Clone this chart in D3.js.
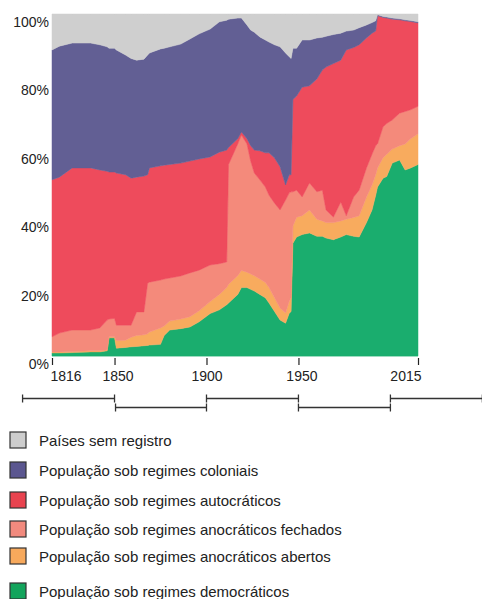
<!DOCTYPE html>
<html>
<head>
<meta charset="utf-8">
<script src="https://cdn.jsdelivr.net/npm/d3@7"></script>
<style>
  html, body { margin: 0; padding: 0; background: #fff; }
  svg { display: block; font-family: "Liberation Sans", Arial, Helvetica, sans-serif; }
</style>
</head>
<body>
<svg id="chart" width="482" height="599"></svg>
<script>
// ---- data (percent of world population) ----
const years = [1816,1820,1827,1837,1842,1846,1847,1850,1851,1856,1859,1862,1866,1868,1869,1875,1877,1880,1886,1891,1896,1902,1907,1911,1912,1917,1919,1922,1924,1926,1929,1932,1934,1937,1940,1943,1945,1946,1947,1949,1952,1956,1960,1963,1965,1969,1973,1976,1980,1983,1987,1990,1992,1993,1996,1998,2001,2005,2008,2011,2015];

const democratic   = [0.9,0.9,1.0,1.2,1.2,1.5,5.3,5.3,2.3,2.5,2.7,2.8,3.0,3.1,3.2,3.4,6.0,7.6,8.0,8.5,10.0,12.4,13.5,15,15.5,18,20,20,19.5,19,18,17,15.5,13,10.5,9.6,12.5,13,33,34.8,35.5,36,35,35,34.5,34,34.8,35.5,35,34.8,39,42.7,47,49.4,52,52.5,56.4,57.3,54.4,55,56];
const openAnocracy = [0.3,0.3,0.3,0.3,0.3,0.3,0.3,0.3,2.2,2.1,2.8,3.2,3.2,3.4,3.8,4.8,2.8,2.6,2.8,3.0,3.2,3.5,4.5,5,5.5,5.5,5,4.5,4.5,4.5,4.5,4.5,4.5,4,3.5,3,3.5,4,5,5.8,5.5,6.7,5,4.5,4.5,5,4.7,4.5,5.5,6.2,7.5,7.3,6,5.6,6,6.5,4.1,4.2,7.6,8.5,9];
const closedAnocracy = [4.4,5.5,6.3,6.1,6.7,8.7,5.2,5.4,4.5,4.4,3.5,6.9,6.7,14.8,14.6,14.0,13.7,12.6,12.6,12.8,11.9,10.7,9.0,7.5,35,38.5,39.6,37.5,33,30,29,27.9,27,27.7,28.7,33,31.7,31,10,7.9,5.5,7.9,8,9,3.7,1.6,5.5,1,6,7.5,8.5,9,8.5,7,9,9,8.5,9.5,9.5,8.5,8];
const autocratic   = [45.9,45.6,47.4,47.4,46.2,43.5,43.0,42.8,44.5,44.0,43.0,39.4,39.7,31.7,33.4,33.4,33.3,33.2,33.0,32.7,32.5,31.6,32.6,32.7,5,1.5,0.9,1.5,4.5,6.7,8.5,10,12.4,13.2,12.6,4.4,5.3,5,27,27.5,32.1,28.4,33,35.1,41.8,44.9,41.5,48.5,43.7,42.5,38,35.4,33.5,37.5,32,30.8,29.5,27.3,26.5,25.8,24.4];
const colonial     = [38.0,38.3,36.5,36.5,36.6,36.4,36.2,36.2,36.0,35.0,35.0,34.2,34.2,35.0,33.6,34.2,34.2,34.4,34.8,35.7,36.6,37.4,38.1,38,37.5,35.3,33.3,33.3,33.8,34.5,33.3,33,32.4,33.1,35.1,38.6,34.5,34,15,14,13.8,13.4,12,9.6,9,8.5,7.9,5.5,5.1,5,3.8,3.1,3,0.3,0.3,0.3,0.3,0.3,0.3,0.3,0.3];
const noRecord     = [10.5,9.4,8.5,8.5,9.0,9.6,10.0,10.0,10.5,12.0,13.0,13.5,13.2,12.0,11.4,10.2,10.0,9.6,8.8,7.3,5.8,4.4,2.3,1.8,1.5,1.2,1.2,3.2,4.7,5.3,6.7,7.6,8.2,9,9.6,11.4,12.5,13,10,10,7.6,7.6,7,6.8,6.5,6,5.6,5,4.7,4,3.2,2.5,2,0.2,0.7,0.9,1.2,1.4,1.7,1.9,2.3];

const seriesKeys   = ["democratic","openAnocracy","closedAnocracy","autocratic","colonial","noRecord"];
const seriesColors = ["#1aad6e","#f8ab5e","#f48a7b","#ee4b5c","#625f94","#cfcfcf"];

const xTickYears  = [1816, 1850, 1900, 1950, 2015];
const yTickValues = [0, 20, 40, 60, 80, 100];
const periodBounds = [1800, 1850, 1900, 1950, 2000, 2050];

const legendLabels = [
  "Países sem registro",
  "População sob regimes coloniais",
  "População sob regimes autocráticos",
  "População sob regimes anocráticos fechados",
  "População sob regimes anocráticos abertos",
  "População sob regimes democráticos"
];
const legendColors = ["#cdcdcd","#5b5790","#e8434f","#f28a7e","#f7a95c","#13a45c"];

// ---- build table ----
const seriesArrays = { democratic, openAnocracy, closedAnocracy, autocratic, colonial, noRecord };
const table = years.map((yr, i) => {
  const row = { year: yr };
  seriesKeys.forEach(k => row[k] = seriesArrays[k][i]);
  return row;
});

const svg = d3.select("#chart");
const x = d3.scaleLinear().domain([1816, 2015]).range([52, 418]);
const y = d3.scaleLinear().domain([0, 100]).range([356, 14]);

const stacked = d3.stack().keys(seriesKeys).offset(d3.stackOffsetExpand)(table);

const area = d3.area()
  .x(d => x(d.data.year))
  .y0(d => y(d[0] * 100))
  .y1(d => y(d[1] * 100))
  .curve(d3.curveLinear);

svg.append("g").selectAll("path")
  .data(stacked)
  .join("path")
  .attr("d", area)
  .attr("fill", (d, i) => seriesColors[i])
  .attr("stroke", (d, i) => seriesColors[i])
  .attr("stroke-width", 0.5);

// faint baseline
svg.append("line")
  .attr("x1", x(1816)).attr("x2", x(2015))
  .attr("y1", y(0) + 0.5).attr("y2", y(0) + 0.5)
  .attr("stroke", "#9fdcc2").attr("stroke-width", 1.2);

// y labels
svg.append("g").selectAll("text")
  .data(yTickValues)
  .join("text")
  .attr("x", 49)
  .attr("y", d => y(d) + 8)
  .attr("dy", "0.35em")
  .attr("text-anchor", "end")
  .attr("font-size", 14)
  .attr("fill", "#222")
  .text(d => d + "%");

// x axis ticks
const xAxis = d3.axisBottom(x)
  .tickValues(xTickYears)
  .tickFormat(d3.format("d"))
  .tickSize(7)
  .tickPadding(6);
const gx = svg.append("g").attr("transform", `translate(0,${y(0) + 2})`).call(xAxis);
gx.select(".domain").remove();
gx.selectAll(".tick line").attr("stroke", "#222").attr("stroke-width", 1.2);
gx.selectAll(".tick text")
  .attr("font-size", 14)
  .attr("font-family", '"Liberation Sans", Arial, sans-serif')
  .attr("fill", "#222")
  .attr("text-anchor", d => d === 1816 ? "start" : d === 2015 ? "end" : "middle")
  .attr("dx", d => d === 1816 ? -2 : d === 2015 ? 3 : (d === 1900 ? 0 : 3));

// period brackets
const bracket = svg.append("g").attr("stroke", "#333").attr("stroke-width", 1.3).attr("fill", "none");
for (let i = 0; i < periodBounds.length - 1; i++) {
  const a = x(periodBounds[i]) + (i === 1 ? 1 : 0);
  const b = x(periodBounds[i + 1]);
  const ly = i % 2 === 0 ? 398.5 : 407.5;
  bracket.append("line").attr("x1", a).attr("x2", b).attr("y1", ly).attr("y2", ly);
  bracket.append("line").attr("x1", a).attr("x2", a).attr("y1", ly - 4).attr("y2", ly + 4);
  bracket.append("line").attr("x1", b).attr("x2", b).attr("y1", ly - 4).attr("y2", ly + 4);
}

// legend
const legendY = [440, 470, 500, 529, 556, 591];
const lg = svg.append("g");
legendLabels.forEach((lab, i) => {
  lg.append("rect")
    .attr("x", 10).attr("y", legendY[i] - 8)
    .attr("width", 16).attr("height", 16)
    .attr("fill", legendColors[i])
    .attr("stroke", "#333").attr("stroke-width", 1.2);
  lg.append("text")
    .attr("x", 39).attr("y", legendY[i] + 1)
    .attr("dy", "0.35em")
    .attr("font-size", 15)
    .attr("fill", "#222")
    .text(lab);
});
</script>
</body>
</html>
